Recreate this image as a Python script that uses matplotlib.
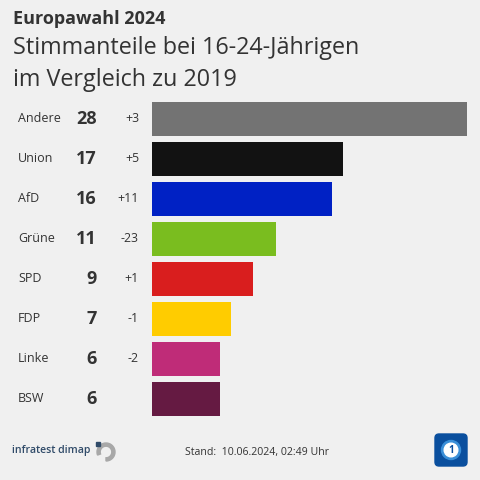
import matplotlib
matplotlib.use("Agg")
import matplotlib.pyplot as plt
import matplotlib.transforms as mtransforms
from matplotlib.patches import FancyBboxPatch, Circle, Wedge, Rectangle

parties = ["Andere", "Union", "AfD", "Grüne", "SPD", "FDP", "Linke", "BSW"]
shares = [28, 17, 16, 11, 9, 7, 6, 6]
changes = ["+3", "+5", "+11", "-23", "+1", "-1", "-2", ""]
colors = ["#737373", "#121212", "#0021c4", "#7abd1f", "#d91e1e", "#ffcc00", "#bf2c78", "#651a42"]

BG = "#f0f0f0"
TXT = "#333333"
plt.rcParams['font.family'] = ['Open Sans', 'DejaVu Sans']

fig = plt.figure(figsize=(4.8, 4.8), dpi=100, facecolor=BG)
W = H = 480.0
ax = fig.add_axes([152 / W, 61 / H, 315 / W, 320 / H])
ax.set_facecolor(BG)
ypos = list(range(len(parties)))
ax.barh(ypos, shares, height=0.85, color=colors)
ax.set_xlim(0, 28)
ax.set_ylim(7.5, -0.5)
ax.axis("off")

tr = mtransforms.blended_transform_factory(fig.transFigure, ax.transData)
for y, p, s, c in zip(ypos, parties, shares, changes):
    ax.text(18 / W, y, p, transform=tr, ha="left", va="center", fontsize=9, color=TXT)
    ax.text(97 / W, y, str(s), transform=tr, ha="right", va="center", fontsize=13,
            fontweight="bold", color=TXT)
    if c:
        ax.text(139 / W, y, c, transform=tr, ha="right", va="center", fontsize=8.8, color=TXT)

fig.text(13 / W, 1 - 19 / H, "Europawahl 2024", ha="left", va="center", fontsize=13,
         fontweight="bold", color=TXT)
fig.text(13 / W, 1 - 48 / H, "Stimmanteile bei 16-24-Jährigen", ha="left", va="center",
         fontsize=16.8, color=TXT)
fig.text(13 / W, 1 - 80 / H, "im Vergleich zu 2019", ha="left", va="center",
         fontsize=16.8, color=TXT)

# footer
fig.text(12 / W, 1 - 451 / H, "infratest dimap", ha="left", va="center", fontsize=7.6,
         fontweight="semibold", color="#2f4a68")
fig.text(185 / W, 1 - 452 / H, "Stand:  10.06.2024, 02:49 Uhr", ha="left", va="center",
         fontsize=7.6, color=TXT)

# infratest logo: gray ring with dark square
fax = fig.add_axes([0, 0, 1, 1], facecolor="none")
fax.set_xlim(0, W)
fax.set_ylim(H, 0)
fax.axis("off")
fax.add_patch(Wedge((106, 452), 9, -200, 90, width=3.2, color="#a8a8a8"))
fax.add_patch(Rectangle((96, 442), 4, 4, color="#2f4a68"))
# ARD logo
fax.add_patch(FancyBboxPatch((435, 434), 32, 32, boxstyle="round,pad=0,rounding_size=4",
                             color="#0a4f9e"))
fax.add_patch(Circle((451, 450), 9.5, color="#3a8fd8"))
fax.add_patch(Circle((451, 450), 6.8, color="#ffffff"))
fax.text(451, 450.5, "1", ha="center", va="center", fontsize=7, fontweight="bold",
         color="#0a4f9e")

fig.savefig("out.png", dpi=100, facecolor=BG)
